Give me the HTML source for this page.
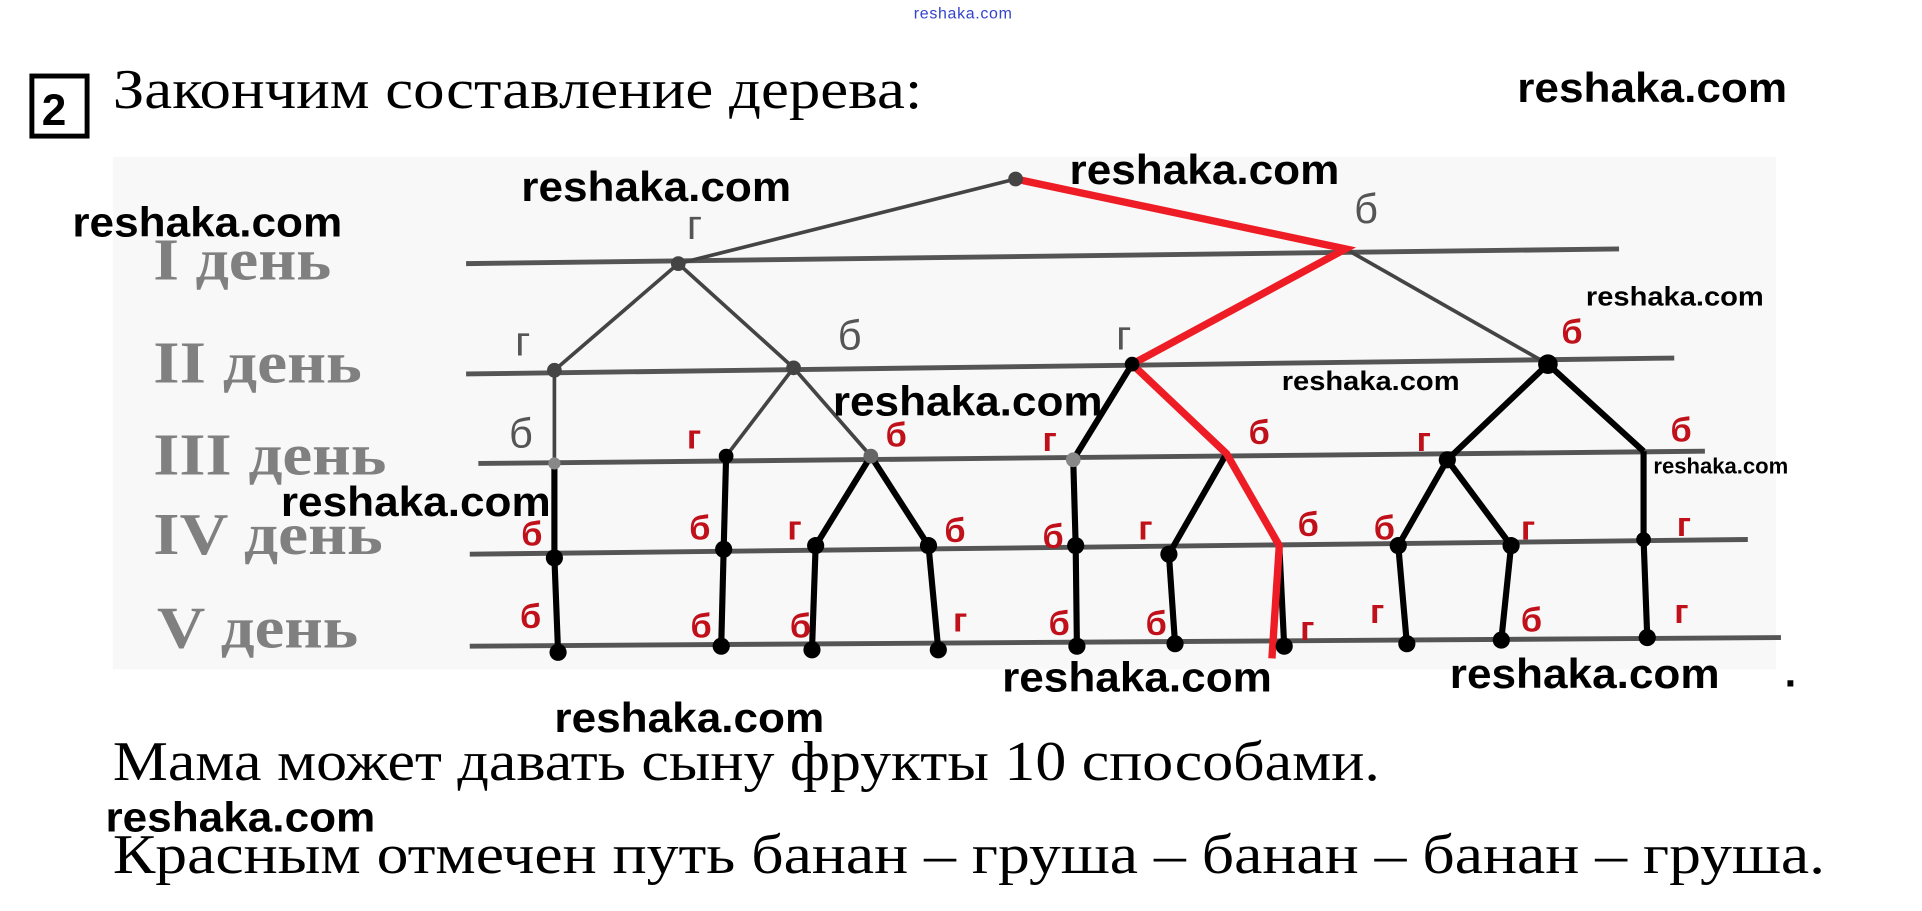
<!DOCTYPE html>
<html><head><meta charset="utf-8"><style>
html,body{margin:0;padding:0;background:#fff;width:1922px;height:911px;overflow:hidden}
svg{display:block}
.wm{font-family:"Liberation Sans",sans-serif;font-weight:bold;font-size:34px;fill:#000}
.wms{font-family:"Liberation Sans",sans-serif;font-weight:bold;font-size:22px;fill:#000}
.day{font-family:"Liberation Serif",serif;font-weight:bold;font-size:48px;fill:#808080}
.lg{font-family:"Liberation Sans",sans-serif;font-size:34px;fill:#555}
.lr{font-family:"Liberation Sans",sans-serif;font-weight:bold;font-size:28px;fill:#c0101a}
.big{font-family:"Liberation Serif",serif;font-size:46px;fill:#000}
</style></head><body>
<svg width="1922" height="911" viewBox="0 0 1567 743" preserveAspectRatio="none">
<text x="745" y="15" font-family="Liberation Sans,sans-serif" font-size="13" fill="#3344cc" textLength="80">reshaka.com</text>
<rect x="26" y="62" width="45" height="49" fill="none" stroke="#000" stroke-width="4"/>
<text x="34" y="102" font-family="Liberation Sans,sans-serif" font-weight="bold" font-size="36">2</text>
<text x="92" y="88" class="big" textLength="660" lengthAdjust="spacingAndGlyphs">Закончим составление дерева:</text>
<text x="1237" y="83" class="wm" textLength="220" lengthAdjust="spacingAndGlyphs">reshaka.com</text>
<rect x="92" y="128" width="1356" height="418" fill="#f8f8f8"/>
<g stroke="#555" stroke-width="4">
<line x1="380" y1="215" x2="1320" y2="203"/>
<line x1="380" y1="305" x2="1365" y2="292"/>
<line x1="390" y1="378" x2="1390" y2="368"/>
<line x1="383" y1="452" x2="1425" y2="440"/>
<line x1="383" y1="527" x2="1452" y2="520"/>
</g>
<text x="125" y="228" class="day" textLength="145" lengthAdjust="spacingAndGlyphs">I день</text>
<text x="125" y="312" class="day" textLength="170" lengthAdjust="spacingAndGlyphs">II день</text>
<text x="125" y="387" class="day" textLength="190" lengthAdjust="spacingAndGlyphs">III день</text>
<text x="125" y="452" class="day" textLength="187" lengthAdjust="spacingAndGlyphs">IV день</text>
<text x="128" y="528" class="day" textLength="164" lengthAdjust="spacingAndGlyphs">V день</text>
<g stroke="#444" stroke-width="3">
<line x1="828" y1="146" x2="553" y2="215"/>
<line x1="553" y1="215" x2="452" y2="302"/>
<line x1="553" y1="215" x2="647" y2="300"/>
<line x1="1097" y1="203" x2="1262" y2="297"/>
<line x1="452" y1="302" x2="452" y2="378"/>
<line x1="647" y1="300" x2="592" y2="372"/>
<line x1="647" y1="300" x2="710" y2="372"/>
</g>
<g stroke="#000" stroke-width="5">
<line x1="923" y1="297" x2="875" y2="375"/>
<line x1="1262" y1="297" x2="1180" y2="375"/>
<line x1="1262" y1="297" x2="1340" y2="368"/>
<line x1="452" y1="378" x2="452" y2="455"/>
<line x1="452" y1="455" x2="455" y2="532"/>
<line x1="592" y1="372" x2="590" y2="448"/>
<line x1="590" y1="448" x2="588" y2="527"/>
<line x1="710" y1="372" x2="665" y2="445"/>
<line x1="710" y1="372" x2="757" y2="445"/>
<line x1="665" y1="445" x2="662" y2="530"/>
<line x1="757" y1="445" x2="765" y2="530"/>
<line x1="875" y1="375" x2="877" y2="445"/>
<line x1="877" y1="445" x2="878" y2="527"/>
<line x1="1000" y1="370" x2="953" y2="452"/>
<line x1="953" y1="452" x2="958" y2="525"/>
<line x1="1180" y1="375" x2="1140" y2="445"/>
<line x1="1180" y1="375" x2="1232" y2="445"/>
<line x1="1140" y1="445" x2="1147" y2="525"/>
<line x1="1232" y1="445" x2="1224" y2="522"/>
<line x1="1340" y1="368" x2="1340" y2="440"/>
<line x1="1340" y1="440" x2="1343" y2="520"/>
<line x1="1043" y1="445" x2="1047" y2="527"/>
</g>
<polyline points="828,146 1097,203 923,297 1000,370 1043,445 1037,537" fill="none" stroke="#ee1c24" stroke-width="6"/>
<g fill="#000">
<circle cx="828" cy="146" r="6" fill="#444"/><circle cx="553" cy="215" r="6" fill="#444"/>
<circle cx="452" cy="302" r="6" fill="#444"/><circle cx="647" cy="300" r="6" fill="#444"/>
<circle cx="923" cy="297" r="6"/><circle cx="1262" cy="297" r="8"/>
<circle cx="452" cy="378" r="5" fill="#888"/><circle cx="592" cy="372" r="6"/><circle cx="710" cy="372" r="6" fill="#666"/>
<circle cx="875" cy="375" r="6" fill="#888"/><circle cx="1180" cy="375" r="7"/>
<circle cx="452" cy="455" r="7"/><circle cx="590" cy="448" r="7"/><circle cx="665" cy="445" r="7"/><circle cx="757" cy="445" r="7"/>
<circle cx="877" cy="445" r="7"/><circle cx="953" cy="452" r="7"/><circle cx="1140" cy="445" r="7"/><circle cx="1232" cy="445" r="7"/><circle cx="1340" cy="440" r="6"/>
<circle cx="455" cy="532" r="7"/><circle cx="588" cy="527" r="7"/><circle cx="662" cy="530" r="7"/><circle cx="765" cy="530" r="7"/>
<circle cx="878" cy="527" r="7"/><circle cx="958" cy="525" r="7"/><circle cx="1047" cy="527" r="7"/><circle cx="1147" cy="525" r="7"/>
<circle cx="1224" cy="522" r="7"/><circle cx="1343" cy="520" r="7"/>
</g>
<text x="560" y="195" class="lg">г</text><text x="1104" y="182" class="lg">б</text>
<text x="420" y="290" class="lg">г</text><text x="683" y="285" class="lg">б</text>
<text x="910" y="285" class="lg">г</text><text x="415" y="365" class="lg">б</text>
<g class="lr">
<text x="1273" y="280">б</text>
<text x="560" y="366">г</text><text x="722" y="364">б</text><text x="850" y="368">г</text><text x="1018" y="362">б</text><text x="1155" y="368">г</text><text x="1362" y="360">б</text>
<text x="425" y="445">б</text><text x="562" y="440">б</text><text x="642" y="440">г</text><text x="770" y="442">б</text><text x="850" y="447">б</text><text x="928" y="440">г</text><text x="1058" y="437">б</text><text x="1120" y="440">б</text><text x="1240" y="440">г</text><text x="1367" y="437">г</text>
<text x="424" y="512">б</text><text x="563" y="520">б</text><text x="644" y="520">б</text><text x="777" y="515">г</text><text x="855" y="518">б</text><text x="934" y="518">б</text><text x="1060" y="522">г</text><text x="1117" y="508">г</text><text x="1240" y="515">б</text><text x="1365" y="508">г</text>
</g>
<text x="425" y="164" class="wm" textLength="220" lengthAdjust="spacingAndGlyphs">reshaka.com</text>
<text x="872" y="150" class="wm" textLength="220" lengthAdjust="spacingAndGlyphs">reshaka.com</text>
<text x="59" y="193" class="wm" textLength="220" lengthAdjust="spacingAndGlyphs">reshaka.com</text>
<text x="1293" y="249" class="wms" textLength="145" lengthAdjust="spacingAndGlyphs">reshaka.com</text>
<text x="1045" y="318" class="wms" textLength="145" lengthAdjust="spacingAndGlyphs">reshaka.com</text>
<text x="679" y="339" class="wm" textLength="220" lengthAdjust="spacingAndGlyphs">reshaka.com</text>
<text x="1348" y="386" class="wms" style="font-size:18px" textLength="110" lengthAdjust="spacingAndGlyphs">reshaka.com</text>
<text x="229" y="421" class="wm" textLength="220" lengthAdjust="spacingAndGlyphs">reshaka.com</text>
<text x="817" y="564" class="wm" textLength="220" lengthAdjust="spacingAndGlyphs">reshaka.com</text>
<text x="1182" y="561" class="wm" textLength="220" lengthAdjust="spacingAndGlyphs">reshaka.com</text>
<text x="1455" y="560" class="wm">.</text>
<text x="452" y="597" class="wm" textLength="220" lengthAdjust="spacingAndGlyphs">reshaka.com</text>
<text x="86" y="678" class="wm" textLength="220" lengthAdjust="spacingAndGlyphs">reshaka.com</text>
<text x="92" y="636" class="big" textLength="1033" lengthAdjust="spacingAndGlyphs">Мама может давать сыну фрукты 10 способами.</text>
<text x="92" y="712" class="big" textLength="1396" lengthAdjust="spacingAndGlyphs">Красным отмечен путь банан – груша – банан – банан – груша.</text>
</svg>
</body></html>
